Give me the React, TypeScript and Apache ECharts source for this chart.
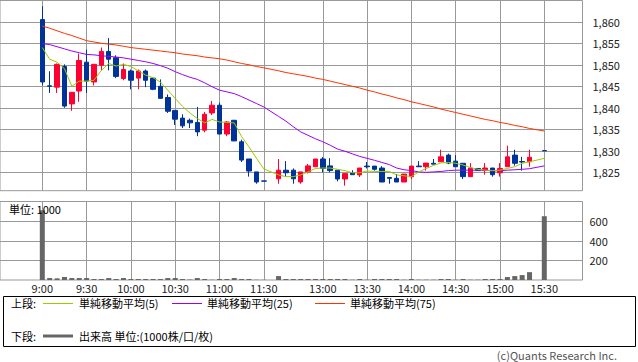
import React, { useEffect, useRef } from 'react';
import * as echarts from 'echarts';

const slots = [
  '9:00','9:05','9:10','9:15','9:20','9:25','9:30','9:35','9:40','9:45','9:50','9:55',
  '10:00','10:05','10:10','10:15','10:20','10:25','10:30','10:35','10:40','10:45','10:50','10:55',
  '11:00','11:05','11:10','11:15','11:20','11:25','11:30','',
  '12:30','12:35','12:40','12:45','12:50','12:55',
  '13:00','13:05','13:10','13:15','13:20','13:25','13:30','13:35','13:40','13:45','13:50','13:55',
  '14:00','14:05','14:10','14:15','14:20','14:25','14:30','14:35','14:40','14:45','14:50','14:55',
  '15:00','15:05','15:10','15:15','15:20','15:25','15:30'
];

const tickLabels = ['9:00','9:30','10:00','10:30','11:00','11:30','13:00','13:30','14:00','14:30','15:00','15:30'];
const priceTicks = [1825, 1830, 1835, 1840, 1845, 1850, 1855, 1860];
const volumeTicks = [200, 400, 600];

// [open, close, low, high]
const ohlc: (number[] | null)[] = [
  [1860.5, 1846.0, 1845.2, 1863.6],
  [1845.1, 1845.0, 1843.45, 1848.5],
  [1844.8, 1850.1, 1843.45, 1850.3],
  [1849.6, 1840.4, 1840.0, 1850.1],
  [1840.9, 1843.6, 1839.3, 1843.6],
  [1843.9, 1851.0, 1841.4, 1852.6],
  [1850.6, 1846.2, 1843.45, 1853.5],
  [1846.0, 1850.1, 1845.2, 1850.1],
  [1849.9, 1853.1, 1848.7, 1854.0],
  [1853.1, 1851.3, 1848.7, 1856.2],
  [1851.65, 1847.3, 1846.9, 1852.2],
  [1846.8, 1848.9, 1846.4, 1850.3],
  [1848.55, 1846.4, 1844.3, 1848.9],
  [1846.9, 1848.55, 1844.3, 1848.9],
  [1848.55, 1846.4, 1844.8, 1848.9],
  [1846.9, 1844.3, 1844.1, 1847.1],
  [1845.0, 1842.2, 1842.2, 1846.6],
  [1842.4, 1839.2, 1838.8, 1843.1],
  [1839.4, 1837.35, 1836.0, 1839.4],
  [1837.6, 1835.8, 1835.3, 1838.5],
  [1837.1, 1836.5, 1835.3, 1837.5],
  [1836.6, 1834.4, 1833.4, 1840.2],
  [1834.8, 1838.5, 1834.3, 1839.05],
  [1838.8, 1840.6, 1838.3, 1841.6],
  [1840.6, 1833.9, 1833.9, 1841.2],
  [1833.9, 1836.7, 1833.4, 1836.9],
  [1837.1, 1832.3, 1832.3, 1837.1],
  [1832.1, 1827.85, 1827.4, 1832.6],
  [1828.1, 1825.3, 1824.0, 1828.1],
  [1825.1, 1822.75, 1822.35, 1825.1],
  [1823.0, 1822.95, 1822.95, 1823.0],
  null,
  [1823.5, 1825.5, 1822.35, 1828.1],
  [1825.5, 1824.9, 1824.0, 1827.6],
  [1825.5, 1823.5, 1822.35, 1825.9],
  [1822.75, 1825.1, 1822.35, 1825.1],
  [1825.1, 1826.5, 1824.75, 1826.95],
  [1826.3, 1828.1, 1826.2, 1828.1],
  [1828.1, 1825.9, 1825.0, 1828.55],
  [1826.5, 1825.4, 1825.0, 1828.3],
  [1825.5, 1823.45, 1822.9, 1825.5],
  [1823.45, 1824.7, 1821.9, 1824.7],
  [1824.85, 1824.45, 1824.45, 1825.5],
  [1824.4, 1826.0, 1823.9, 1826.0],
  [1826.45, 1826.3, 1825.9, 1827.4],
  [1826.45, 1825.7, 1825.4, 1826.45],
  [1826.0, 1822.75, 1822.75, 1826.45],
  [1823.8, 1823.6, 1822.35, 1823.8],
  [1823.6, 1822.75, 1822.75, 1824.6],
  [1822.75, 1824.6, 1822.75, 1824.6],
  [1823.97, 1826.45, 1823.45, 1826.45],
  [1826.45, 1826.3, 1826.3, 1827.6],
  [1826.3, 1827.15, 1825.4, 1827.15],
  [1827.1, 1826.9, 1826.9, 1828.1],
  [1827.45, 1828.6, 1827.45, 1830.25],
  [1829.0, 1827.15, 1826.9, 1829.35],
  [1827.6, 1826.3, 1826.3, 1829.0],
  [1827.1, 1824.0, 1823.45, 1827.1],
  [1824.0, 1826.0, 1824.0, 1827.15],
  [1825.9, 1825.4, 1825.4, 1826.0],
  [1825.4, 1826.0, 1824.45, 1827.15],
  [1826.0, 1824.45, 1824.0, 1826.0],
  [1824.9, 1825.9, 1824.0, 1827.15],
  [1826.3, 1828.6, 1826.3, 1831.2],
  [1829.0, 1827.1, 1826.55, 1830.25],
  [1827.5, 1827.4, 1825.4, 1828.6],
  [1827.45, 1828.5, 1826.3, 1830.25],
  null,
  [1830.05, 1830.0, 1830.0, 1830.05]
];

const ma5 = [
  1854.0, 1851.3, 1850.6, 1849.1, 1845.0, 1846.2, 1846.2, 1846.4, 1848.7, 1850.3,
  1849.7, 1850.1, 1849.6, 1848.6, 1847.6, 1847.0, 1846.0, 1844.1, 1842.2, 1840.3,
  1838.8, 1837.5, 1836.5, 1837.3, 1836.7, 1836.6, 1836.5, 1833.3, 1830.9, 1828.3,
  1825.8, null, 1824.4, 1824.0, 1824.0, 1824.4, 1825.1, 1825.9, 1826.0, 1826.0,
  1825.7, 1825.4, 1824.9, 1824.9, 1825.3, 1825.2, 1825.2, 1825.2, 1824.4, 1824.2,
  1824.0, 1825.1, 1825.9, 1826.6, 1827.2, 1827.3, 1827.1, 1826.7, 1826.1, 1825.7,
  1825.5, 1825.4, 1825.5, 1825.9, 1826.3, 1827.1, 1827.45, null, 1828.25
];

const ma25 = [
  1854.9, 1854.7, 1854.2, 1853.7, 1853.2, 1852.8, 1852.4, 1852.3, 1852.1, 1851.95,
  1851.8, 1851.6, 1851.3, 1851.0, 1850.7, 1850.3, 1849.8, 1849.2, 1848.4, 1847.7,
  1847.1, 1846.6, 1845.8, 1844.9, 1844.1, 1843.7, 1843.3, 1842.6, 1841.8, 1841.0,
  1840.2, null, 1838.0, 1836.9, 1835.6, 1834.4, 1833.6, 1832.8, 1832.1, 1831.3,
  1830.4, 1829.9, 1829.3, 1828.7, 1828.25, 1827.8, 1827.3, 1826.8, 1826.0, 1825.6,
  1825.4, 1825.1, 1825.0, 1825.1, 1825.2, 1825.4, 1825.5, 1825.5, 1825.5, 1825.5,
  1825.5, 1825.3, 1825.4, 1825.5, 1825.6, 1825.7, 1825.85, null, 1826.5
];

const ma75 = [
  1859.0, 1858.5, 1857.9, 1857.3, 1856.8, 1856.2, 1855.6, 1855.3, 1855.0, 1854.8,
  1854.6, 1854.3, 1854.0, 1853.8, 1853.6, 1853.4, 1853.2, 1853.0, 1852.8, 1852.5,
  1852.3, 1852.1, 1851.8, 1851.6, 1851.4, 1851.1, 1850.7, 1850.3, 1850.0, 1849.6,
  1849.3, null, 1848.6, 1848.2, 1847.9, 1847.6, 1847.3, 1846.9, 1846.6, 1846.2,
  1845.8, 1845.4, 1845.0, 1844.6, 1844.1, 1843.7, 1843.2, 1842.8, 1842.3, 1841.9,
  1841.4, 1841.0, 1840.6, 1840.2, 1839.7, 1839.3, 1838.9, 1838.5, 1838.1, 1837.7,
  1837.3, 1837.0, 1836.6, 1836.3, 1835.9, 1835.6, 1835.2, null, 1834.6
];

const volume = [
  710, 20, 17, 30, 20, 20, 20, 10, 10, 20,
  10, 20, 10, 10, 10, 10, 10, 20, 20, 10,
  5, 20, 10, 3, 10, 10, 20, 10, 10, 3,
  2, null, 40, 10, 10, 10, 10, 10, 10, 10,
  10, 10, 3, 10, 3, 10, 10, 10, 10, 3,
  10, 3, 3, 3, 10, 10, 3, 10, 3, 3,
  10, 10, 10, 30, 40, 50, 80, null, 650
];

const FONT = '"Noto Sans CJK JP", "Noto Sans", sans-serif';
const GRID = '#999';
const PRICE_MIN = 1820.73;
const PRICE_MAX = 1864.94;

export default function App() {
  const ref = useRef<HTMLDivElement>(null);

  useEffect(() => {
    if (!ref.current) return;
    const chart = echarts.init(ref.current, undefined, { renderer: 'svg' });
    const isTick = (_i: number, v: string) => tickLabels.includes(v);
    const candleData = ohlc.map((c) => (c ? c : '-'));
    const lineSeries = (name: string, data: (number | null)[], color: string) => ({
      name,
      type: 'line',
      xAxisIndex: 1,
      yAxisIndex: 1,
      data: data.map((v) => (v == null ? '-' : v)),
      showSymbol: false,
      symbol: 'none',
      connectNulls: true,
      lineStyle: { color, width: 1 },
      z: 3,
      silent: true,
    });

    const legendText = (x: number, y: number, text: string) => ({
      type: 'text',
      x,
      y,
      style: { text, fill: '#000', font: `11px ${FONT}`, verticalAlign: 'middle' },
    });
    const legendLine = (x1: number, x2: number, y: number, color: string, w: number) => ({
      type: 'line',
      shape: { x1, y1: y, x2, y2: y },
      style: { stroke: color, lineWidth: w },
    });

    chart.setOption({
      animation: false,
      textStyle: { fontFamily: FONT },
      grid: [
        { left: -2, top: 0.5, width: 584.5, height: 190.2, show: true, borderColor: GRID, borderWidth: 1 },
        { left: 42.3, top: 0.5, width: 502, height: 190.2 },
        { left: -2, top: 201.5, width: 584.5, height: 78.5, show: true, borderColor: GRID, borderWidth: 1 },
        { left: 42.3, top: 201.5, width: 502, height: 78.5 },
      ],
      xAxis: [
        { gridIndex: 0, type: 'value', min: 0, max: 1, show: false },
        {
          gridIndex: 1, type: 'category', data: slots, boundaryGap: false,
          axisLine: { show: false }, axisTick: { show: false }, axisLabel: { show: false },
          splitLine: { show: true, interval: isTick, lineStyle: { color: GRID, width: 1 } },
        },
        { gridIndex: 2, type: 'value', min: 0, max: 1, show: false },
        {
          gridIndex: 3, type: 'category', data: slots, boundaryGap: false,
          axisLine: { show: false }, axisTick: { show: false },
          axisLabel: { show: true, interval: isTick, margin: 2, fontSize: 11, color: '#222', fontFamily: FONT },
          splitLine: { show: true, interval: isTick, lineStyle: { color: GRID, width: 1 } },
        },
      ],
      yAxis: [
        {
          gridIndex: 0, type: 'value', position: 'right', min: PRICE_MIN, max: PRICE_MAX, splitNumber: 9,
          axisLine: { show: false },
          axisTick: { show: true, length: 6, customValues: priceTicks, lineStyle: { color: GRID } },
          axisLabel: {
            margin: 10, fontSize: 11, color: '#222', fontFamily: FONT, customValues: priceTicks,
            formatter: (v: number) => Math.round(v).toLocaleString('en-US'),
          },
          splitLine: { show: true, lineStyle: { color: GRID, width: 1 } },
        },
        { gridIndex: 1, type: 'value', min: PRICE_MIN, max: PRICE_MAX, show: false },
        {
          gridIndex: 2, type: 'value', position: 'right', min: 0, max: 800, interval: 200,
          axisLine: { show: false },
          axisTick: { show: true, length: 5, customValues: volumeTicks, lineStyle: { color: GRID } },
          axisLabel: {
            margin: 7, fontSize: 11, color: '#222', fontFamily: FONT, customValues: volumeTicks,
            formatter: (v: number) => (v === 0 || v === 800 ? '' : String(v)),
          },
          splitLine: { show: true, lineStyle: { color: GRID, width: 1 } },
        },
        { gridIndex: 3, type: 'value', min: 0, max: 800, show: false },
      ],
      series: [
        {
          name: '株価',
          type: 'candlestick',
          xAxisIndex: 1,
          yAxisIndex: 1,
          data: candleData,
          barWidth: 5,
          clip: false,
          itemStyle: {
            color: '#ff0033', color0: '#003399',
            borderColor: '#ff0033', borderColor0: '#003399', borderWidth: 1,
          },
          z: 2,
          silent: true,
        },
        lineSeries('単純移動平均(75)', ma75, '#ff3300'),
        lineSeries('単純移動平均(25)', ma25, '#9900ff'),
        lineSeries('単純移動平均(5)', ma5, '#99cc00'),
        {
          name: '出来高',
          type: 'bar',
          xAxisIndex: 3,
          yAxisIndex: 3,
          data: volume.map((v) => (v == null ? '-' : v)),
          barWidth: 5,
          itemStyle: { color: '#666' },
          silent: true,
        },
      ],
      graphic: [
        {
          type: 'text', x: 9, y: 209,
          style: { text: '単位: 1000', fill: '#000', font: `11px ${FONT}`, verticalAlign: 'middle' },
          z: 10,
        },
        {
          type: 'rect',
          shape: { x: 3.5, y: 296.5, width: 632, height: 50 },
          style: { fill: 'transparent', stroke: '#000', lineWidth: 1 },
        },
        legendText(11, 303, '上段:'),
        legendLine(43, 73, 303.5, '#99cc00', 1),
        legendText(79, 303, '単純移動平均(5)'),
        legendLine(172, 202, 303.5, '#9900ff', 1),
        legendText(207, 303, '単純移動平均(25)'),
        legendLine(315, 345, 303.5, '#ff3300', 1),
        legendText(350, 303, '単純移動平均(75)'),
        legendText(11, 336, '下段:'),
        legendLine(43, 73, 336, '#666', 3),
        legendText(79, 336, '出来高 単位:(1000株/口/枚)'),
        {
          type: 'text', x: 617, y: 355,
          style: { text: '(c)Quants Research Inc.', fill: '#555', font: `11px ${FONT}`, align: 'right', verticalAlign: 'middle' },
        },
      ],
    });

    return () => chart.dispose();
  }, []);

  return (
    <div
      ref={ref}
      style={{ position: 'absolute', left: 0, top: 0, width: 638, height: 362, background: '#fff' }}
    />
  );
}
